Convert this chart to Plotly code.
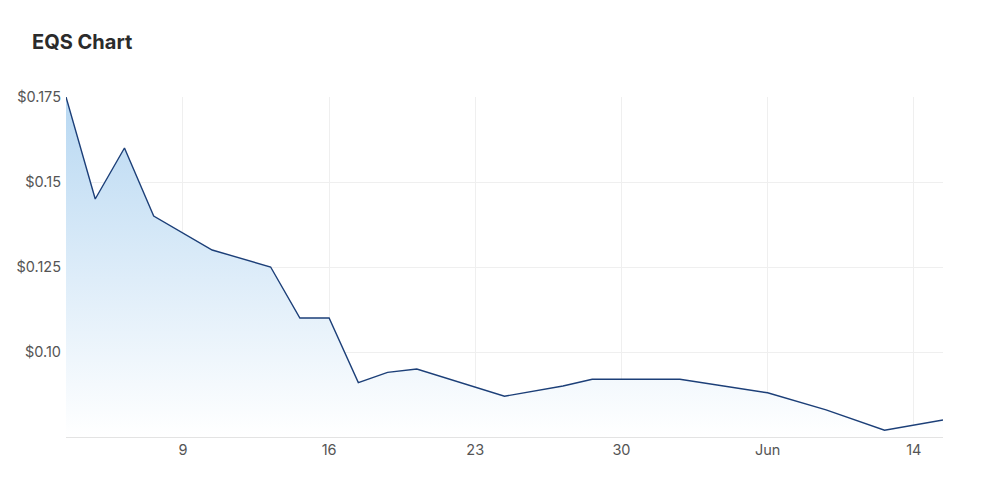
import plotly.graph_objects as go

# EQS closing prices (trading days, ASX, 2022)
dates = ['2022-05-03', '2022-05-04', '2022-05-05', '2022-05-06', '2022-05-10',
         '2022-05-12', '2022-05-13', '2022-05-16', '2022-05-17', '2022-05-18',
         '2022-05-19', '2022-05-24', '2022-05-26', '2022-05-27', '2022-06-01',
         '2022-06-06', '2022-06-08', '2022-06-10', '2022-06-15']
prices = [0.175, 0.145, 0.16, 0.14, 0.13,
          0.125, 0.11, 0.11, 0.091, 0.094,
          0.095, 0.087, 0.09, 0.092, 0.092,
          0.088, 0.083, 0.077, 0.08]

x_tick_vals = ['2022-05-09', '2022-05-16', '2022-05-23', '2022-05-30', '2022-06-06', '2022-06-14']
x_tick_text = ['9', '16', '23', '30', 'Jun', '14']
y_tick_vals = [0.10, 0.125, 0.15, 0.175]
y_tick_text = ['$0.10', '$0.125', '$0.15', '$0.175']
holidays = ['2022-06-13']

tick_font = dict(family='Inter, Roboto, sans-serif', size=14.5, color='#555')

fig = go.Figure()

fig.add_trace(
    go.Scatter(x=dates, y=prices, mode='lines',
               line=dict(color='#1c3f78', width=1.4),
               fill='tozeroy',
               fillgradient=dict(type='vertical', start=0.075, stop=0.175,
                                 colorscale=[[0, 'rgba(255,255,255,1)'],
                                             [1, 'rgba(184,216,242,1)']]),
               hoverinfo='x+y', showlegend=False)
)

fig.update_xaxes(
    rangebreaks=[dict(bounds=['sat', 'mon']), dict(values=holidays)],
    range=['2022-05-03', '2022-06-15'],
    tickvals=x_tick_vals, ticktext=x_tick_text,
    showgrid=True, gridcolor='#efefef', gridwidth=1,
    showline=True, linecolor='#e3e3e3', linewidth=1,
    ticks='', tickfont=tick_font,
    zeroline=False, automargin=False,
)
fig.update_yaxes(
    range=[0.075, 0.175],
    tickvals=y_tick_vals, ticktext=y_tick_text,
    showgrid=True, gridcolor='#efefef', gridwidth=1,
    ticks='', ticklabelstandoff=4,
    tickfont=tick_font,
    zeroline=False, automargin=False,
)

# the page body adds an 8px offset, so margins are trimmed to compensate
fig.update_layout(
    width=1000, height=496,
    title=dict(text='<b>EQS Chart</b>', x=0.024, xanchor='left', y=0.931, yanchor='middle',
               font=dict(family='Inter, Roboto, sans-serif', size=20, color='#2b2b2b')),
    margin=dict(l=58, r=65, t=89, b=67),
    plot_bgcolor='white', paper_bgcolor='white',
)

fig.write_html("out.html")
